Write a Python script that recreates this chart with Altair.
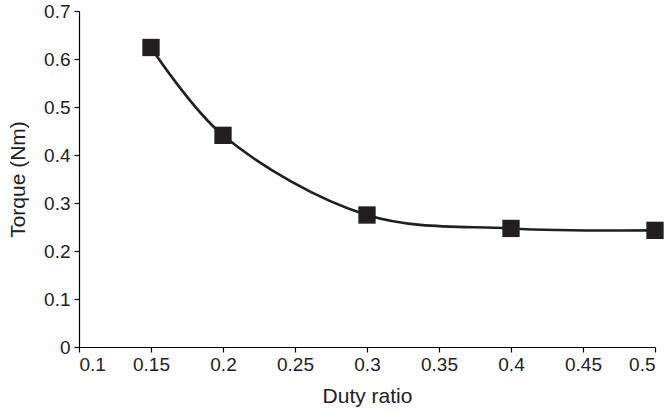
import altair as alt
import pandas as pd

duty = [0.15, 0.2, 0.3, 0.4, 0.5]
torque = [0.624, 0.441, 0.275, 0.247, 0.243]

df = pd.DataFrame({"duty": duty, "torque": torque})

FONT = "Liberation Sans"
INK = "#231f20"

x = alt.X("duty:Q", title="Duty ratio",
          scale=alt.Scale(domain=[0.1, 0.5], nice=False, zero=False),
          axis=alt.Axis(values=[0.1, 0.15, 0.2, 0.25, 0.3, 0.35, 0.4, 0.45, 0.5],
                        format="~g", grid=False, tickSize=5, labelPadding=3,
                        titlePadding=11))
y = alt.Y("torque:Q", title="Torque (Nm)",
          scale=alt.Scale(domain=[0, 0.7], nice=False),
          axis=alt.Axis(values=[0, 0.1, 0.2, 0.3, 0.4, 0.5, 0.6, 0.7],
                        format="~g", grid=False, tickSize=5, labelPadding=4,
                        titlePadding=15))

base = alt.Chart(df).encode(x=x, y=y)
line = base.mark_line(interpolate="catmull-rom", color=INK, strokeWidth=2.6)
pts = base.mark_point(shape="square", filled=True, size=300, color=INK, opacity=1)

chart = (line + pts).properties(
    width=576, height=336,
    background="white",
    autosize=alt.AutoSizeParams(type="none"),
    padding={"left": 79, "top": 11, "right": 14, "bottom": 65},
).configure_view(stroke=None).configure_axis(
    domainColor="black", tickColor="black", labelColor="#222", titleColor="#222",
    labelFont=FONT, titleFont=FONT, labelFontSize=19, titleFontSize=21,
    titleFontWeight="normal", domainWidth=1.2, tickWidth=1.2,
)

chart.save("out.html", embed_options={"renderer": "svg", "actions": False})
